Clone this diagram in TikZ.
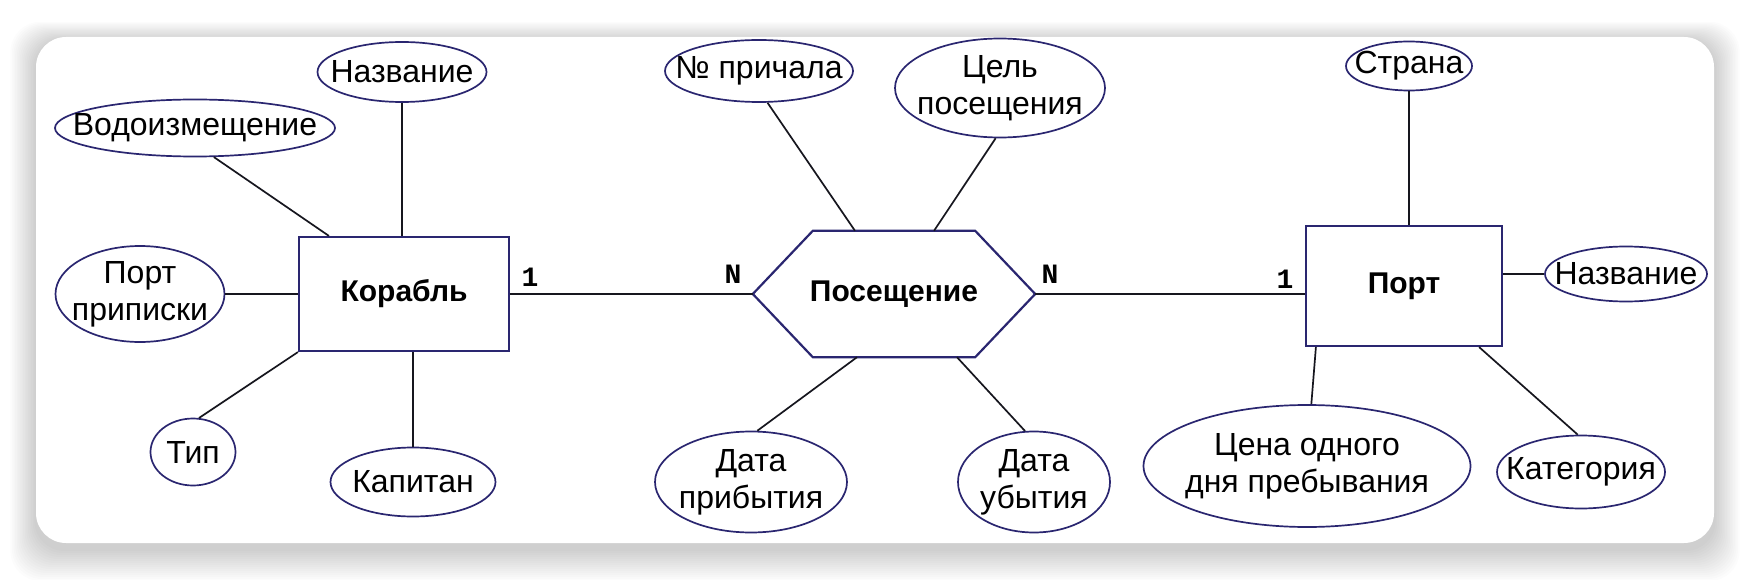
\documentclass[tikz,border=0pt]{standalone}
\usepackage{fontspec}
\setmainfont{Liberation Sans}
\newfontfamily\monofnt{Liberation Mono}
\usetikzlibrary{shapes.geometric,calc}
\definecolor{navy}{RGB}{42,38,112}
\definecolor{linec}{RGB}{22,22,30}
\begin{document}
\begin{tikzpicture}[x=1pt,y=-1pt,
  attrtxt/.style={align=center, inner sep=0pt, font=\fontsize{32}{37}\selectfont},
  attr/.style={ellipse, draw=navy, line width=1.7pt, inner sep=0pt,
    label={[attrtxt]center:#1}},
  ent/.style={rectangle, draw=navy, line width=2.2pt, inner sep=0pt,
    font=\bfseries\fontsize{30}{35}\selectfont},
  conn/.style={draw=linec, line width=1.7pt},
  cardlbl/.style={font=\monofnt\bfseries\fontsize{28}{30}\selectfont, inner sep=0pt}
]
\useasboundingbox (0,0) rectangle (1750,580);
\fill[white] (0,0) rectangle (1750,580);
% shadow
\foreach \i in {1,...,16}{
  \fill[black, opacity=0.012, rounded corners=30pt]
    (36-1.6*\i, 41-1.2*\i) rectangle (1714+1.6*\i, 549+2.0*\i);
}
% card
\fill[white, rounded corners=30pt] (36,37) rectangle (1714,543);

% entities
\node[ent, minimum width=210pt, minimum height=114pt] (ship) at (404,294) {Корабль};
\node[ent, minimum width=196pt, minimum height=120pt] (port) at (1404,286) {Порт};
\node[inner sep=0pt, minimum width=282pt, minimum height=126pt,
  font=\bfseries\fontsize{30}{35}\selectfont] (vis) at (894,294) {Посещение};
\draw[navy, line width=2.2pt, line join=miter]
  (vis.west) -- ($(vis.north west)+(60,0)$) -- ($(vis.north east)+(-60,0)$)
  -- (vis.east) -- ($(vis.south east)+(-60,0)$) -- ($(vis.south west)+(60,0)$) -- cycle;

% ship attributes
\node[attr={Название}, minimum width=169pt, minimum height=60pt] (nm1) at (402,72) {};
\node[attr={Водоизмещение}, minimum width=280pt, minimum height=57pt] (vod) at (195,128) {};
\node[attr={Порт\\приписки}, minimum width=169pt, minimum height=96pt] (pp) at (140,294) {};
\node[attr={Тип}, minimum width=85pt, minimum height=67pt] (tip) at (193,452) {};
\node[attr={Капитан}, minimum width=165pt, minimum height=69pt] (kap) at (413,482) {};

% visit attributes
\node[attr={№ причала}, minimum width=188pt, minimum height=62pt] (nom) at (759,71) {};
\node[attr={Цель\\посещения}, minimum width=210pt, minimum height=99pt] (cel) at (1000,88) {};
\node[attr={Дата\\прибытия}, minimum width=192pt, minimum height=101pt] (dpr) at (751,482) {};
\node[attr={Дата\\убытия}, minimum width=152pt, minimum height=101pt] (dub) at (1034,482) {};

% port attributes
\node[attr={Страна}, minimum width=126pt, minimum height=49pt] (str) at (1409,66) {};
\node[attr={Название}, minimum width=162pt, minimum height=55pt] (nm2) at (1626,274) {};
\node[attr={Цена одного\\дня пребывания}, minimum width=327pt, minimum height=122pt] (cena) at (1307,466) {};
\node[attr={Категория}, minimum width=168pt, minimum height=73pt] (kat) at (1581,472) {};

% connectors
\draw[conn] (ship.east) -- (vis.west);
\draw[conn] (vis.east) -- (vis.east -| port.west);

\draw[conn] (nm1.south) -- (nm1.south |- ship.north);
\draw[conn] (vod.303) -- ($(ship.north west)+(31,0)$);
\draw[conn] (pp.east) -- (pp.east -| ship.west);
\draw[conn] (ship.south west) -- (tip.80);
\draw[conn] (kap.north) -- (kap.north |- ship.south);

\draw[conn] (nom.285) -- ($(vis.north)+(-39,0)$);
\draw[conn] (cel.265) -- ($(vis.north)+(40,0)$);
\draw[conn] ($(vis.south)+(-37,0)$) -- (dpr.83);
\draw[conn] ($(vis.south)+(63,0)$) -- (dub.100);

\draw[conn] (str.south) -- (str.south |- port.north);
\draw[conn] (nm2.west) -- (nm2.west -| port.east);
\draw[conn] ($(port.south west)+(11,0)$) -- (cena.86);
\draw[conn] ($(port.south east)+(-24,0)$) -- (kat.95);

% cardinalities
\node[cardlbl] (c1) at (530,277) {1};
\node[cardlbl] (c2) at (733,274) {N};
\node[cardlbl] (c3) at (1050,274) {N};
\node[cardlbl] (c4) at (1285,279) {1};
\end{tikzpicture}
\end{document}
